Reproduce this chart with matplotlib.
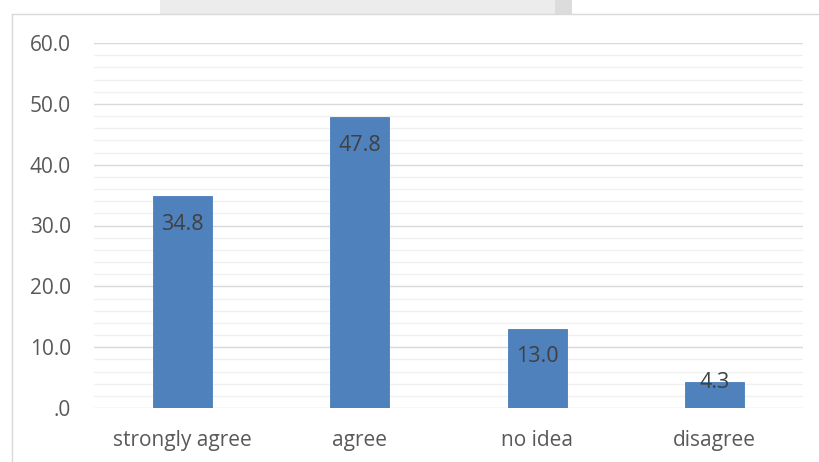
import matplotlib.pyplot as plt
from matplotlib.patches import Rectangle
from matplotlib.lines import Line2D
from matplotlib.ticker import MultipleLocator, FuncFormatter

categories = ["strongly agree", "agree", "no idea", "disagree"]
values = [34.8, 47.8, 13.0, 4.3]

W, H = 819, 462
fig = plt.figure(figsize=(W / 100, H / 100), dpi=100)
fig.patch.set_facecolor("white")

# faint scanned strip above the chart frame
fig.patches.append(Rectangle((160 / W, 1 - 14 / H), 412 / W, 14 / H,
                             transform=fig.transFigure, facecolor="#ECECEC",
                             edgecolor="none", zorder=-2))
fig.patches.append(Rectangle((555 / W, 1 - 14 / H), 17 / W, 14 / H,
                             transform=fig.transFigure, facecolor="#DCDCDC",
                             edgecolor="none", zorder=-2))
# chart frame
fig.lines.append(Line2D([12 / W, 12 / W], [0, 1 - 14 / H], transform=fig.transFigure,
                        color="#D9D9D9", lw=1.0, zorder=-1))
fig.lines.append(Line2D([12 / W, 1], [1 - 14 / H, 1 - 14 / H], transform=fig.transFigure,
                        color="#D9D9D9", lw=1.0, zorder=-1))

left, right = 94 / W, 803 / W
bottom, top = 1 - 408 / H, 1 - 43 / H
ax = fig.add_axes([left, bottom, right - left, top - bottom])
ax.set_facecolor("none")

x = range(len(categories))
ax.bar(x, values, width=0.333, color="#4F81BD", edgecolor="#4A7EBB", linewidth=0.6, zorder=3)

ax.set_xlim(-0.5, len(categories) - 0.5)
ax.set_ylim(0, 60)
ax.yaxis.set_major_locator(MultipleLocator(10))
ax.yaxis.set_minor_locator(MultipleLocator(2))
ax.yaxis.set_major_formatter(FuncFormatter(lambda v, p: ".0" if v == 0 else "%.1f" % v))
ax.grid(which="major", axis="y", color="#D9D9D9", lw=1.0, zorder=1)
ax.grid(which="minor", axis="y", color="#F0F0F0", lw=1.0, zorder=1)
ax.set_axisbelow(True)
for s in ax.spines.values():
    s.set_visible(False)
ax.tick_params(axis="both", which="both", length=0)
ax.tick_params(axis="y", pad=16.5, labelsize=15, labelcolor="#595959")
ax.tick_params(axis="x", pad=15.5, labelsize=15, labelcolor="#595959")
ax.set_xticks(list(x))
ax.set_xticklabels(categories)
for lab in ax.get_xticklabels() + ax.get_yticklabels():
    lab.set_fontfamily("Open Sans")

for xi, v in zip(x, values):
    off = -28 if v > 10 else -1
    ax.annotate("%.1f" % v, xy=(xi, v), xytext=(0, off), textcoords="offset pixels",
                ha="center", va="center", fontsize=15.5, color="#404040",
                fontfamily="Open Sans", zorder=4)

fig.savefig("out.png", dpi=100, facecolor="white")
